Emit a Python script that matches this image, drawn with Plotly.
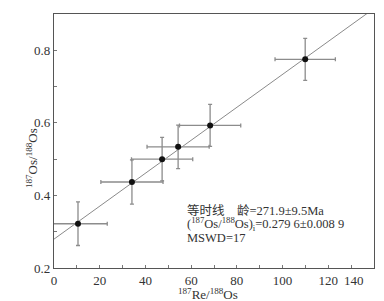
import plotly.graph_objects as go

# data
re_os = [10.5, 34.1, 47.3, 54.3, 68.3, 109.9]
os_os = [0.322, 0.437, 0.500, 0.534, 0.593, 0.775]
re_err = [12.8, 13.6, 13.4, 13.6, 13.4, 13.2]
os_err = [0.060, 0.061, 0.060, 0.060, 0.058, 0.058]

isochron_x = [0, 140]
intercept = 0.2796
slope = 0.00454

x_ticks = [0, 20, 40, 60, 80, 100, 120, 140]
x_ticktext = ["0", "20", "40", "60", "80", "100", "120", ""]
last_x_label = "140"
y_ticks = [0.2, 0.4, 0.6, 0.8]
y_ticktext = ["0.2", "0.4", "0.6", "0.8"]

info_lines = [
    "等时线\u00a0\u00a0\u00a0\u00a0龄=271.9±9.5Ma",
    "(<sup>187</sup>Os/<sup>188</sup>Os)<sub>i</sub>=0.279 6±0.008 9",
    "MSWD=17",
]

SERIF = "Liberation Serif"
CJK = "Liberation Serif, Noto Sans CJK SC"
TXT = "#333333"

fig = go.Figure()

fig.add_trace(go.Scatter(
    x=isochron_x,
    y=[intercept + slope * v for v in isochron_x],
    mode="lines",
    line=dict(color="#8a8a8a", width=1),
    hoverinfo="skip",
    showlegend=False,
))

fig.add_trace(go.Scatter(
    x=re_os, y=os_os, mode="markers",
    marker=dict(color="#111111", size=6),
    error_x=dict(type="data", array=re_err, color="#8c8c8c", thickness=1.3, width=2),
    error_y=dict(type="data", array=os_err, color="#8c8c8c", thickness=1.3, width=2),
    showlegend=False,
))

annotations = [
    dict(x=0.975, y=-0.012, xref="paper", yref="paper",
         text=last_x_label, showarrow=False, yanchor="top",
         font=dict(family=SERIF, size=13, color=TXT)),
    dict(x=0.48, y=-0.101, xref="paper", yref="paper",
         text="<sup>187</sup>Re/<sup>188</sup>Os", showarrow=False,
         yanchor="middle", font=dict(family=SERIF, size=13, color=TXT)),
    dict(x=-0.1, y=0.433, xref="paper", yref="paper",
         text="<sup>187</sup>Os/<sup>188</sup>Os", showarrow=False,
         textangle=-90, font=dict(family=SERIF, size=13, color=TXT)),
]
for line, ypos in zip(info_lines, [0.228, 0.173, 0.118]):
    annotations.append(dict(
        x=0.408, y=ypos, xref="paper", yref="paper",
        xanchor="left", yanchor="middle", align="left", showarrow=False,
        text=line, font=dict(family=CJK, size=12.5, color=TXT)))

fig.update_layout(
    width=384, height=301,
    margin=dict(l=46, r=18, t=6, b=41),
    plot_bgcolor="white", paper_bgcolor="white",
    font=dict(family=SERIF, size=13, color=TXT),
    xaxis=dict(
        range=[0, 140], tickvals=x_ticks, ticktext=x_ticktext,
        showline=True, linecolor="#555555", linewidth=1.2, mirror=True,
        ticks="inside", ticklen=3, tickcolor="#777777",
        minor=dict(dtick=10, ticks="inside", ticklen=3, tickcolor="#777777"),
        showgrid=False, zeroline=False,
        tickfont=dict(family=SERIF, size=13, color=TXT),
    ),
    yaxis=dict(
        range=[0.2, 0.9], tickvals=y_ticks, ticktext=y_ticktext,
        showline=True, linecolor="#555555", linewidth=1.2, mirror=True,
        ticks="inside", ticklen=3, tickcolor="#777777",
        minor=dict(dtick=0.1, ticks="inside", ticklen=3, tickcolor="#777777"),
        showgrid=False, zeroline=False,
        tickfont=dict(family=SERIF, size=13, color=TXT),
    ),
    annotations=annotations,
)

fig.write_html("out.html")
